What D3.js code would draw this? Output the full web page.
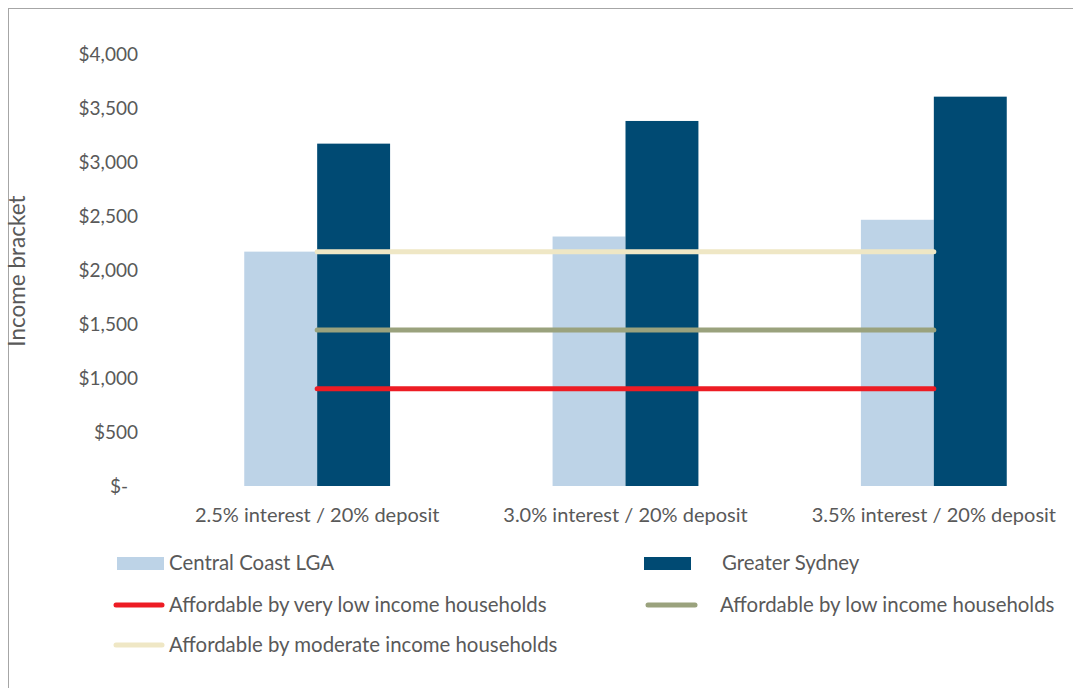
<!DOCTYPE html>
<html><head><meta charset="utf-8">
<script src="https://cdn.jsdelivr.net/npm/d3@7"></script>
<style>body{margin:0;background:#fff}svg{display:block}text{font-family:Lato,"Open Sans",sans-serif;fill:#595959}</style>
</head><body><svg id="c" width="1073" height="688"></svg>
<script>
const categories = ["2.5% interest / 20% deposit","3.0% interest / 20% deposit","3.5% interest / 20% deposit"];
const centralCoast = [2170, 2310, 2465];
const greaterSydney = [3170, 3380, 3605];
const veryLow = [900, 900, 900];
const low = [1445, 1445, 1445];
const moderate = [2170, 2170, 2170];
const yTicks = [0,500,1000,1500,2000,2500,3000,3500,4000];
const colors = {cc:"#bdd3e7", gs:"#004a73", vl:"#ed1c24", lo:"#9aa27d", mo:"#efe7c5"};

const svg = d3.select("#c");
svg.append("rect").attr("x",8.5).attr("y",8.5).attr("width",1100).attr("height",700)
  .attr("fill","none").attr("stroke","#a6a6a6").attr("stroke-width",1);

const y = d3.scaleLinear().domain([0,4000]).range([486,54]);
const x = d3.scaleBand().domain(categories).range([163,1088]).paddingInner(0.527).paddingOuter(0.2635);
const bw = x.bandwidth()/2;
const cx = c => x(c)+x.bandwidth()/2;

const fmt = v => v===0 ? "$-" : "$"+d3.format(",")(v);
const yAxis = svg.append("g").attr("transform","translate(138,0)")
  .call(d3.axisLeft(y).tickValues(yTicks).tickFormat(fmt).tickSize(0).tickPadding(0));
yAxis.select(".domain").remove();
yAxis.selectAll("text").style("font-size","19px").attr("fill","#595959").attr("font-family","Lato");
yAxis.selectAll(".tick").filter(d=>d===0).select("text").attr("text-anchor","end").attr("x",-10);

svg.append("text").attr("transform","translate(25,271) rotate(-90)").attr("text-anchor","middle")
  .style("font-size","22.5px").text("Income bracket");

svg.append("g").selectAll("rect").data(categories).join("rect")
  .attr("x",c=>x(c)).attr("width",bw).attr("y",(c,i)=>y(centralCoast[i])).attr("height",(c,i)=>y(0)-y(centralCoast[i]))
  .attr("fill",colors.cc);
svg.append("g").selectAll("rect").data(categories).join("rect")
  .attr("x",c=>x(c)+bw).attr("width",bw).attr("y",(c,i)=>y(greaterSydney[i])).attr("height",(c,i)=>y(0)-y(greaterSydney[i]))
  .attr("fill",colors.gs);

const line = d3.line().x((d,i)=>cx(categories[i])).y(d=>y(d));
[[moderate,colors.mo],[low,colors.lo],[veryLow,colors.vl]].forEach(([d,col])=>{
  svg.append("path").datum(d).attr("d",line).attr("fill","none").attr("stroke",col)
    .attr("stroke-width",5).attr("stroke-linecap","round");
});

svg.append("g").selectAll("text").data(categories).join("text")
  .attr("x",c=>cx(c)).attr("y",522).attr("text-anchor","middle").style("font-size","20px").text(c=>c);

const lg = svg.append("g").style("font-size","20.4px");
lg.append("rect").attr("x",117).attr("y",557).attr("width",47).attr("height",13).attr("fill",colors.cc);
lg.append("text").attr("x",169).attr("y",570).text("Central Coast LGA");
lg.append("rect").attr("x",644).attr("y",557).attr("width",47).attr("height",13).attr("fill",colors.gs);
lg.append("text").attr("x",722).attr("y",570).text("Greater Sydney");
const ll = [[116,162,605,colors.vl,169,"Affordable by very low income households"],
            [648,695,605,colors.lo,720,"Affordable by low income households"],
            [116,162,645,colors.mo,169,"Affordable by moderate income households"]];
ll.forEach(([x1,x2,yy,col,tx,t])=>{
  lg.append("line").attr("x1",x1).attr("x2",x2).attr("y1",yy).attr("y2",yy).attr("stroke",col)
    .attr("stroke-width",5).attr("stroke-linecap","round");
  lg.append("text").attr("x",tx).attr("y",yy+7).text(t);
});
</script></body></html>
